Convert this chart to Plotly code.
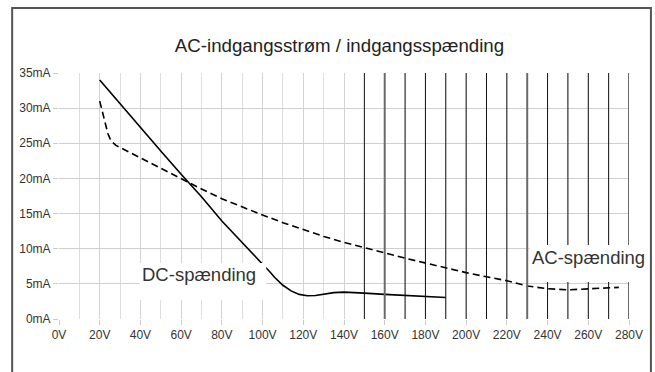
import plotly.graph_objects as go

# ---- data ----
dc_volt = [20, 30, 40, 50, 60, 70, 80, 90, 100, 103, 106, 110, 114, 118, 122, 126, 130, 135, 140, 145, 150, 160, 170, 180, 190]
dc_current = [34.0, 30.6, 27.2, 23.9, 20.6, 17.4, 13.95, 10.8, 7.8, 6.9, 5.9, 4.8, 4.0, 3.5, 3.3, 3.35, 3.55, 3.75, 3.82, 3.78, 3.68, 3.5, 3.35, 3.2, 3.05]

ac_volt = [20, 21, 22, 23, 24, 25, 26, 28, 30, 40, 50, 60, 70, 80, 90, 100, 110, 120, 130, 140, 150, 160, 170, 180, 190, 200, 210, 220, 230, 240, 250, 260, 270, 275]
ac_current = [31.0, 29.8, 28.5, 27.3, 26.4, 25.7, 25.2, 24.7, 24.4, 22.9, 21.4, 19.9, 18.5, 17.1, 15.9, 14.8, 13.7, 12.7, 11.75, 10.9, 10.1, 9.4, 8.65, 7.95, 7.25, 6.6, 6.0, 5.45, 4.7, 4.3, 4.15, 4.25, 4.45, 4.5]

x_ticks = list(range(0, 281, 20))
x_tick_labels = [f"{v}V" for v in x_ticks]
y_ticks = list(range(0, 36, 5))
y_tick_labels = [f"{v}mA" for v in y_ticks]

dark_vlines = list(range(150, 281, 10))
gray_vlines = [160, 230, 280]

title_text = "AC-indgangsstrøm / indgangsspænding"
dc_label = "DC-spænding"
ac_label = "AC-spænding"

# ---- layout geometry ----
W, H = 655, 372
PW, PH = 572, 246
ML, MT = 59, 73
MR = W - ML - PW
MB = H - MT - PH


def px(xp):
    # reference pixel x -> paper coordinate
    return (xp - ML) / PW


def py(yp):
    # reference pixel y -> paper coordinate
    return (MT + PH - yp) / PH


FONT = "Liberation Sans, Arial, Helvetica, sans-serif"

fig = go.Figure()
fig.add_trace(go.Scatter(x=ac_volt, y=ac_current, mode="lines",
                         line=dict(color="#000000", width=1.6, dash="7px,4px"),
                         name="AC", showlegend=False, hoverinfo="skip"))
fig.add_trace(go.Scatter(x=dc_volt, y=dc_current, mode="lines",
                         line=dict(color="#000000", width=1.6),
                         name="DC", showlegend=False, hoverinfo="skip"))

shapes = []
for v in dark_vlines:
    gray = v in gray_vlines
    shapes.append(dict(type="line", xref="x", yref="paper", x0=v, x1=v, y0=0, y1=1,
                       line=dict(color="#6a6a6a" if gray else "#111111", width=2 if gray else 1),
                       layer="above"))
# white label boxes
shapes.append(dict(type="rect", xref="paper", yref="paper",
                   x0=px(140), x1=px(267), y0=py(300), y1=py(263),
                   fillcolor="white", line=dict(width=0), layer="above"))
shapes.append(dict(type="rect", xref="paper", yref="paper",
                   x0=px(531), x1=px(651), y0=py(282), y1=py(245),
                   fillcolor="white", line=dict(width=0), layer="above"))
# outer frame
shapes.append(dict(type="rect", xref="paper", yref="paper",
                   x0=px(12), x1=px(653), y0=py(395), y1=py(8),
                   fillcolor="rgba(0,0,0,0)", line=dict(color="#555555", width=2), layer="above"))

annotations = [
    dict(text=dc_label, xref="paper", yref="paper", x=px(199), y=py(274),
         xanchor="center", yanchor="middle", showarrow=False,
         font=dict(family=FONT, size=18.5, color="#333333")),
    dict(text=ac_label, xref="paper", yref="paper", x=px(590), y=py(257),
         xanchor="center", yanchor="middle", showarrow=False,
         font=dict(family=FONT, size=18.5, color="#333333")),
]

fig.update_layout(
    width=W, height=H,
    margin=dict(l=ML, r=MR, t=MT, b=MB, pad=0),
    paper_bgcolor="white", plot_bgcolor="white",
    font=dict(family=FONT, size=12, color="#333333"),
    title=dict(text=title_text, x=339.5 / W, y=1 - 45 / H,
               xanchor="center", yanchor="middle",
               xref="container", yref="container",
               font=dict(family=FONT, size=18.7, color="#222222")),
    shapes=shapes,
    annotations=annotations,
    xaxis=dict(range=[0, 280], tickvals=x_ticks, ticktext=x_tick_labels,
               showgrid=True, gridcolor="#d3d3d3", gridwidth=1,
               minor=dict(dtick=10, tick0=0, showgrid=True, gridcolor="#dedede", gridwidth=1),
               zeroline=False, showline=False,
               ticks="outside", ticklen=5, tickcolor="#cccccc",
               tickfont=dict(family=FONT, size=12, color="#333333"), fixedrange=True),
    yaxis=dict(range=[0, 35], tickvals=y_ticks, ticktext=y_tick_labels,
               showgrid=True, gridcolor="#cfcfcf", gridwidth=1,
               zeroline=False, showline=False,
               ticks="outside", ticklen=5, tickcolor="#cccccc",
               tickfont=dict(family=FONT, size=12, color="#333333"), fixedrange=True),
)

fig.write_html("out.html", config={"displayModeBar": False},
               post_script="document.body.style.margin='0';document.body.style.overflow='hidden';")
